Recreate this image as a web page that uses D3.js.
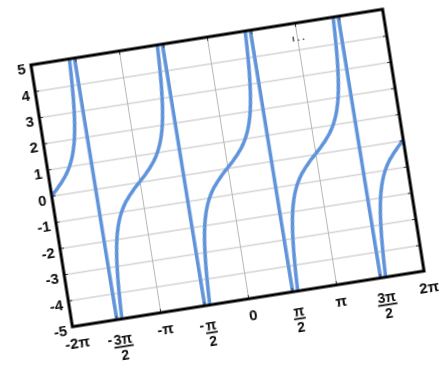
<!DOCTYPE html>
<html>
<head>
<meta charset="utf-8">
<script src="https://cdn.jsdelivr.net/npm/d3@7"></script>
<style>
  body { margin: 0; background: #fff; }
  text { font-family: "Liberation Sans", Arial, sans-serif; font-weight: bold; fill: #111; }
</style>
</head>
<body>
<svg id="chart" width="439" height="366"></svg>
<script>
const PI = Math.PI;

// x ticks at multiples of pi/2
const xTicks = [-2 * PI, -1.5 * PI, -PI, -0.5 * PI, 0, 0.5 * PI, PI, 1.5 * PI, 2 * PI];
const xTickLabels = ["-2π", "-3π/2", "-π", "-π/2", "0", "π/2", "π", "3π/2", "2π"];
const yTicks = [-5, -4, -3, -2, -1, 0, 1, 2, 3, 4, 5];

// zero crossings of the curve
const branchCentres = [-2 * PI, -PI, 0, PI, 2 * PI];
// one branch: offset from its centre -> value
const branchOffsets = [-1.50, -1.45, -1.40, -1.35, -1.30, -1.25, -1.20, -1.10, -1.00, -0.90, -0.80, -0.70,
  -0.60, -0.50, -0.40, -0.30, -0.20, -0.10, 0, 0.10, 0.20, 0.30, 0.40, 0.50, 0.60, 0.70, 0.80, 0.90,
  1.00, 1.10, 1.20, 1.25, 1.30, 1.35, 1.40, 1.45, 1.50];
const branchValues = [-14.1, -8.24, -5.80, -4.46, -3.60, -3.01, -2.57, -1.96, -1.56, -1.26, -1.03, -0.84,
  -0.68, -0.55, -0.42, -0.31, -0.20, -0.10, 0, 0.10, 0.20, 0.31, 0.42, 0.55, 0.68, 0.84, 1.03, 1.26,
  1.56, 1.96, 2.57, 3.01, 3.60, 4.46, 5.80, 8.24, 14.1];

const width = 356, height = 265;
const svg = d3.select('#chart');
svg.append('rect').attr('width', 439).attr('height', 366).attr('fill', '#fff');

// slight softness like the photographed original
const defs = svg.append('defs');
defs.append('filter').attr('id', 'soft')
  .append('feGaussianBlur').attr('stdDeviation', 0.55);
defs.append('clipPath').attr('id', 'plot-clip')
  .append('rect').attr('width', width).attr('height', height);

const g = svg.append('g')
  .attr('filter', 'url(#soft)')
  .attr('transform', 'translate(227.5,168) rotate(-9) translate(' + (-width / 2) + ',' + (-height / 2) + ')');

// SCALES
const x = d3.scaleLinear().domain([-2 * PI, 2 * PI]).range([0, width]);
const y = d3.scaleLinear().domain([-5, 5]).range([height, 0]);

// GRID
g.append('g')
  .attr('class', 'grid y')
  .call(d3.axisLeft(y).tickValues(yTicks).tickSize(-width).tickFormat(''))
  .call(s => s.select('.domain').remove())
  .selectAll('line').attr('stroke', '#d4d4d4').attr('stroke-width', 1.6);

g.append('g')
  .attr('class', 'grid x')
  .attr('transform', 'translate(0,' + height + ')')
  .call(d3.axisBottom(x).tickValues(xTicks).tickSize(-height).tickFormat(''))
  .call(s => s.select('.domain').remove())
  .selectAll('line').attr('stroke', '#b8b8b8').attr('stroke-width', 1);

// CURVE
const points = [];
branchCentres.forEach(c => {
  branchOffsets.forEach((o, i) => {
    const xv = c + o;
    if (xv >= -2 * PI - 1e-9 && xv <= 2 * PI + 1e-9) {
      points.push({x: xv, y: branchValues[i]});
    }
  });
});

const line = d3.line()
  .x(d => x(d.x))
  .y(d => y(d.y))
  .curve(d3.curveMonotoneX);

g.append('path')
  .datum(points)
  .attr('clip-path', 'url(#plot-clip)')
  .attr('fill', 'none')
  .attr('stroke', '#6194da')
  .attr('stroke-width', 3.6)
  .attr('stroke-linejoin', 'round')
  .attr('d', line);

// AXES (inward ticks on all four sides)
const yAxis = d3.axisLeft(y)
  .tickValues(yTicks)
  .tickSize(-4)
  .tickPadding(6)
  .tickFormat(d => String(d));

g.append('g')
  .attr('class', 'y axis')
  .call(yAxis)
  .call(s => s.select('.domain').remove())
  .call(s => s.selectAll('line').attr('stroke', '#333'))
  .selectAll('text')
  .attr('dy', '0.5em')
  .style('font-size', '15px');

g.append('g')
  .attr('transform', 'translate(' + width + ',0)')
  .call(d3.axisRight(y).tickValues(yTicks).tickSize(-4).tickFormat(''))
  .call(s => s.select('.domain').remove())
  .selectAll('line').attr('stroke', '#333');

g.append('g')
  .call(d3.axisTop(x).tickValues(xTicks).tickSize(-4).tickFormat(''))
  .call(s => s.select('.domain').remove())
  .selectAll('line').attr('stroke', '#333');

const xAxisG = g.append('g')
  .attr('class', 'x axis')
  .attr('transform', 'translate(0,' + height + ')')
  .call(d3.axisBottom(x).tickValues(xTicks).tickSize(-4).tickFormat(''))
  .call(s => s.select('.domain').remove());
xAxisG.selectAll('line').attr('stroke', '#333');

// tick labels, fractions drawn as numerator / bar / denominator
xAxisG.selectAll('.tick').each(function (d, i) {
  const tick = d3.select(this);
  const label = xTickLabels[i];
  const parts = label.split('/');
  if (parts.length === 1) {
    tick.append('text')
      .attr('x', 2)
      .attr('y', 22)
      .attr('text-anchor', 'middle')
      .style('font-size', '15px')
      .text(label);
  } else {
    let num = parts[0];
    let neg = false;
    if (num[0] === '-') { neg = true; num = num.slice(1); }
    const num_t = tick.append('text')
      .attr('x', 3)
      .attr('y', 25)
      .attr('text-anchor', 'middle')
      .style('font-size', '14px')
      .text(num);
    const bw = num_t.node().getComputedTextLength() + 1;
    tick.append('line')
      .attr('x1', 3 - bw / 2).attr('x2', 3 + bw / 2)
      .attr('y1', 27.5).attr('y2', 27.5)
      .attr('stroke', '#111').attr('stroke-width', 1.7);
    tick.append('text')
      .attr('x', 3)
      .attr('y', 40.5)
      .attr('text-anchor', 'middle')
      .style('font-size', '14px')
      .text(parts[1]);
    if (neg) {
      tick.append('text')
        .attr('x', 3 - bw / 2 - 1)
        .attr('y', 24)
        .attr('text-anchor', 'end')
        .style('font-size', '14px')
        .text('-');
    }
  }
});

// FRAME
g.append('rect')
  .attr('width', width)
  .attr('height', height)
  .attr('fill', 'none')
  .attr('stroke', '#000')
  .attr('stroke-width', 3);

// stray marks near the top right of the original
g.append('text')
  .attr('x', 262)
  .attr('y', 18)
  .style('font-size', '9px')
  .style('fill', '#333')
  .text('ı . .');
</script>
</body>
</html>
